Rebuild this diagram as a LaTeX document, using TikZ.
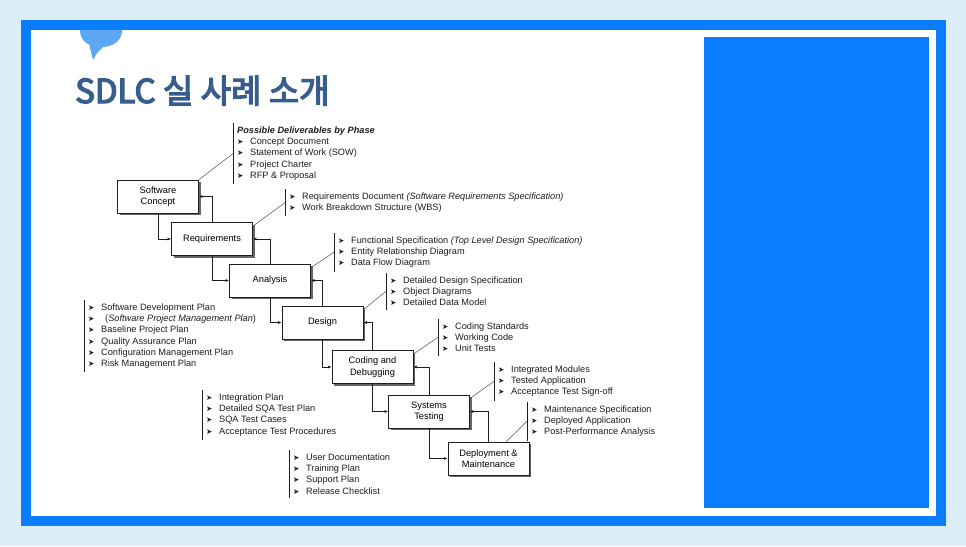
\documentclass[tikz,border=0pt]{standalone}
\usepackage{fontspec}
\setmainfont{Liberation Sans}
\newfontfamily\krfont{Noto Sans CJK KR}[BoldFont={Noto Sans CJK KR},BoldFeatures={FakeBold=4}]
\newfontfamily\dingfont{DejaVu Sans}
\usetikzlibrary{arrows.meta,positioning,calc,shadows}
\definecolor{SlideSky}{HTML}{DCEEF9}
\definecolor{SlideBlue}{HTML}{0A7DFC}
\definecolor{SlideBubble}{HTML}{5CA8F2}
\definecolor{SlideTitle}{HTML}{365D8D}
\definecolor{SlideInk}{HTML}{1E1E1E}
\newcommand{\bul}{\makebox[13pt][l]{\dingfont\fontsize{7.5}{7.5}\selectfont ➤}}

\tikzset{
  phase/.style={draw=SlideInk,fill=white,line width=0.8pt,minimum width=81pt,minimum height=33pt,
    align=center,font=\fontsize{9.3}{11.5}\selectfont,
    drop shadow={shadow xshift=2pt,shadow yshift=-2pt,fill=black!60,opacity=1}},
  dlist/.style={anchor=north west,align=left,inner xsep=4pt,inner ysep=3.5pt,
    font=\fontsize{9.2}{11.3}\selectfont,text=SlideInk},
  bar/.style={draw=SlideInk,line width=0.6pt},
  flow/.style={draw=SlideInk,line width=0.6pt,-{Latex[length=3.5pt,width=3pt]}},
  link/.style={draw=SlideInk!80,line width=0.5pt},
}

\begin{document}
\begin{tikzpicture}[x=1pt,y=-1pt]
% slide frame
\fill[SlideSky] (0,0) rectangle (966,546);
\fill[SlideBlue] (21,20) rectangle (946,526);
\fill[white] (31,30) rectangle (936,516);
\fill[SlideBlue] (704,37) rectangle (929,508);
\fill[SlideBubble] (80,30) .. controls (80,42) and (90,47) .. (101,47) .. controls (112,47) and (122,42) .. (122,30) -- cycle;
\fill[SlideBubble] (89,44) -- (93,60) .. controls (96,54) .. (104,46) -- cycle;
\node[anchor=base west,inner sep=0,text=SlideTitle,font=\krfont\bfseries\fontsize{33}{33}\selectfont] (title) at (75,103) {SDLC 실 사례 소개};

% phases
\node[phase] (sc) at (158,196.5) {Software\\Concept};
\node[phase] (req) at (212,239) {Requirements};
\node[phase] (ana) at (270,280.5) {Analysis};
\node[phase] (des) at (322.5,322.5) {Design};
\node[phase] (cod) at (372.5,367) {Coding and\\Debugging};
\node[phase] (sys) at (429,411.5) {Systems\\Testing};
\node[phase] (dep) at (488.5,458.5) {Deployment \&\\Maintenance};

\foreach \a/\b in {sc/req,req/ana,ana/des,des/cod,cod/sys,sys/dep}{
  \draw[flow] (\a.south) |- (\b.west);
  \draw[flow] (\b.north) |- (\a.east);
}

% deliverables
\node[dlist] (dSc) at (233,123) {\textbf{\textit{Possible Deliverables by Phase}}\\
  \bul Concept Document\\ \bul Statement of Work (SOW)\\ \bul Project Charter\\ \bul RFP \& Proposal};
\node[dlist] (dReq) at (285,189) {\bul Requirements Document \textit{(Software Requirements Specification)}\\
  \bul Work Breakdown Structure (WBS)};
\node[dlist] (dAna) at (334,233) {\bul Functional Specification \textit{(Top Level Design Specification)}\\
  \bul Entity Relationship Diagram\\ \bul Data Flow Diagram};
\node[dlist] (dDes) at (386,273) {\bul Detailed Design Specification\\ \bul Object Diagrams\\ \bul Detailed Data Model};
\node[dlist] (dCod) at (438,319) {\bul Coding Standards\\ \bul Working Code\\ \bul Unit Tests};
\node[dlist] (dSys) at (494,362) {\bul Integrated Modules\\ \bul Tested Application\\ \bul Acceptance Test Sign-off};
\node[dlist] (dDep) at (527,402) {\bul Maintenance Specification\\ \bul Deployed Application\\ \bul Post-Performance Analysis};

% plans
\node[dlist] (pDes) at (84,300) {\bul Software Development Plan\\ \bul\hspace{4pt}(\textit{Software Project Management Plan})\\
  \bul Baseline Project Plan\\ \bul Quality Assurance Plan\\ \bul Configuration Management Plan\\ \bul Risk Management Plan};
\node[dlist] (pSys) at (202,390) {\bul Integration Plan\\ \bul Detailed SQA Test Plan\\ \bul SQA Test Cases\\ \bul Acceptance Test Procedures};
\node[dlist] (pDep) at (289,450) {\bul User Documentation\\ \bul Training Plan\\ \bul Support Plan\\ \bul Release Checklist};

\foreach \l in {dSc,dReq,dAna,dDes,dCod,dSys,dDep,pDes,pSys,pDep}
  \draw[bar] (\l.north west) -- (\l.south west);

\draw[link] (sc.north east) -- (dSc.west);
\foreach \b/\l in {req/dReq,ana/dAna,des/dDes,cod/dCod,sys/dSys}
  \draw[link] ($(\b.north east)+(0,4)$) -- (\l.west);
\draw[link] ($(dep.north east)+(-23,0)$) -- (dDep.west);
\end{tikzpicture}
\end{document}
